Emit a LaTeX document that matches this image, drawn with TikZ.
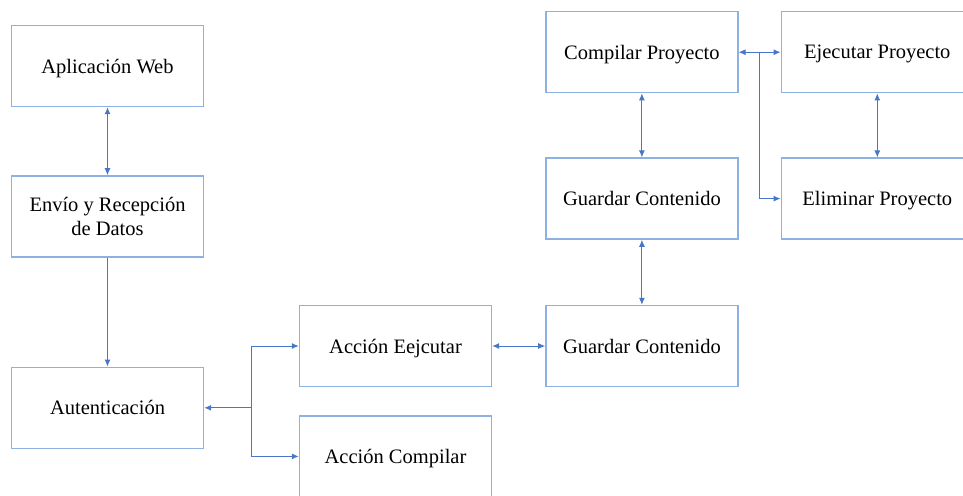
\documentclass[tikz,border=0pt]{standalone}
\usepackage{fontspec}
\setmainfont{Liberation Serif}
\usetikzlibrary{arrows.meta,calc,positioning}
\definecolor{boxline}{RGB}{141,177,226}
\definecolor{linkline}{RGB}{72,118,200}

\begin{document}
\begin{tikzpicture}[x=1pt,y=-1pt,node distance=68pt,>={Latex[length=7pt,width=6pt]},
        bloque/.style={draw=boxline,line width=1.4pt,minimum width=192pt,minimum height=81pt,inner sep=1pt,text depth=0pt,align=center,font=\fontsize{20.5}{24}\selectfont},
        flecha/.style={draw=linkline,line width=1pt}]
        \clip (0,0) rectangle (963,495);
        \node[bloque] (web) at (107.5,66) {Aplicación Web};
        \node[bloque,below=68pt of web] (envio) {Envío y Recepción\\de Datos};
        \node[bloque,below=109pt of envio] (auth) {Autenticación};
        \node[bloque] (accEje) at (395.5,346) {Acción Eejcutar};
        \node[bloque,below=28pt of accEje] (accCom) {Acción Compilar};
        \node[bloque,right=53pt of accEje] (guardA) {Guardar Contenido};
        \node[bloque,above=65pt of guardA] (guardB) {Guardar Contenido};
        \node[bloque,above=64pt of guardB] (compP) {Compilar Proyecto};
        \node[bloque,right=42pt of compP] (ejeP) {Ejecutar Proyecto};
        \node[bloque,below=64pt of ejeP] (elimP) {Eliminar Proyecto};
        \coordinate (jAuth) at ($(auth.east)+(47pt,0)$);
        \coordinate (jComp) at ($(compP.east)+(21pt,0)$);
        \draw[flecha,<->] (web) -- (envio);
        \draw[flecha,->] (envio) -- (auth);
        \draw[flecha,->] (jAuth) -- (auth);
        \draw[flecha,->] (jAuth) |- (accEje);
        \draw[flecha,->] (jAuth) |- (accCom);
        \draw[flecha,<->] (accEje) -- (guardA);
        \draw[flecha,<->] (guardA) -- (guardB);
        \draw[flecha,<->] (guardB) -- (compP);
        \draw[flecha,<->] (compP) -- (ejeP);
        \draw[flecha,->] (jComp) |- (elimP);
        \draw[flecha,<->] (ejeP) -- (elimP);
      \end{tikzpicture}
\end{document}
